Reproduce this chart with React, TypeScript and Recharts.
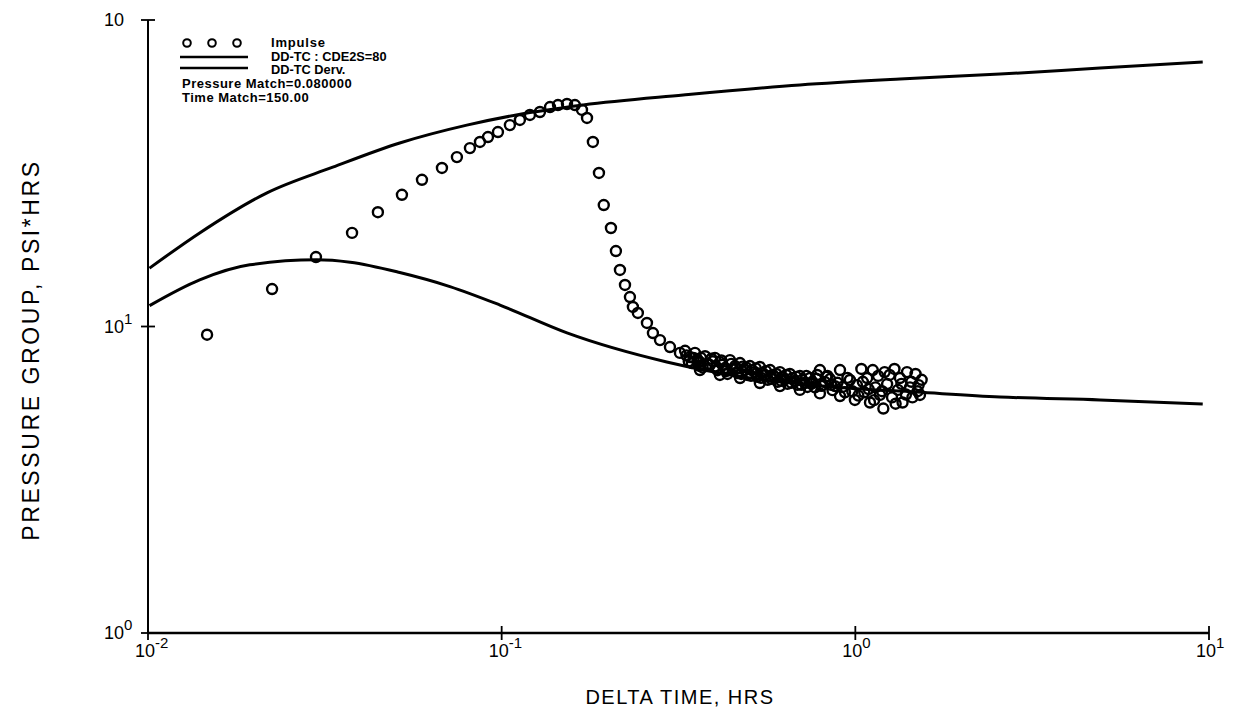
import React from 'react';
import { ComposedChart, Scatter, Line, XAxis, YAxis } from 'recharts';

// ---- Axis ticks ----
const xTicks = [0.01, 0.1, 1, 10];
const xTickExp = ['-2', '-1', '0', '1'];
const yTicks = [1, 10, 100];
const yTickExp = ['0', '1', ''];

// ---- DD-TC : CDE2S=80 (type curve) ----
const curveX = [0.0101, 0.014, 0.0217, 0.0333, 0.0515, 0.0797, 0.110, 0.170, 0.326, 0.697, 1.337, 2.565, 4.92, 9.6];
const curveY = [15.5, 20.2, 27.3, 33.1, 39.7, 45.4, 49.0, 52.8, 56.9, 61.4, 64.2, 66.6, 69.7, 72.9];

// ---- DD-TC Derv. (derivative type curve) ----
const dervX = [0.0101, 0.014, 0.0194, 0.0300, 0.0373, 0.0515, 0.0714, 0.0989, 0.153, 0.293, 0.5035, 0.864, 1.494, 2.565, 4.92, 9.6];
const dervY = [11.7, 14.2, 15.9, 16.5, 16.2, 15.0, 13.5, 11.75, 9.53, 7.66, 6.79, 6.35, 6.11, 5.89, 5.76, 5.59];

// ---- Impulse data ----
const impulseX = [
  0.01469, 0.02243, 0.02985, 0.03775, 0.04467, 0.05224, 0.05952, 0.06779, 0.07472, 0.08133,
  0.08682, 0.09148, 0.09761, 0.1055, 0.1126, 0.1202, 0.1283, 0.1370, 0.1443, 0.1530,
  0.1611, 0.1687, 0.1743, 0.1811, 0.1884, 0.1944, 0.2037, 0.2104, 0.2160, 0.2232,
  0.2305, 0.2350, 0.2427, 0.2575, 0.2677, 0.2803, 0.2991, 0.3192,
  0.330, 0.3406, 0.352, 0.3636, 0.376, 0.388, 0.401, 0.414, 0.428, 0.442,
  0.457, 0.472, 0.487, 0.5035, 0.52, 0.537, 0.555, 0.574, 0.593, 0.612,
  0.632, 0.653, 0.675, 0.697, 0.72, 0.744, 0.769, 0.794, 0.821, 0.848,
  0.876, 0.905, 0.935, 0.965, 0.997, 1.01, 1.04, 1.06, 1.08, 1.10,
  1.12, 1.14, 1.174, 1.20, 1.21, 1.23, 1.27, 1.29, 1.32, 1.337,
  1.36, 1.40, 1.427, 1.45, 1.48, 1.51, 1.523,
  0.3636, 0.414, 0.472, 0.537, 0.612, 0.697, 0.794, 0.905,
  0.345, 0.358, 0.37, 0.395, 0.408, 0.421, 0.435, 0.45, 0.465, 0.48,
  0.495, 0.51, 0.528, 0.546, 0.565, 0.584, 0.603, 0.622, 0.643, 0.664,
  0.686, 0.708, 0.732, 0.756, 0.78, 0.807, 0.834, 0.862, 0.89, 0.92,
  0.95, 0.98, 1.02, 1.05, 1.09, 1.13, 1.16, 1.19, 1.25, 1.3,
  1.35, 1.39, 1.44, 1.5, 1.54,
  0.333, 0.338, 0.349, 0.361, 0.366, 0.382, 0.392, 0.404, 0.418, 0.431,
  0.446, 0.461, 0.476, 0.491, 0.507, 0.523, 0.541, 0.559, 0.578, 0.598,
  0.617, 0.638, 0.659, 0.681, 0.703, 0.727, 0.751, 0.775, 0.8, 0.828,
  0.855,
];
const impulseY = [
  9.4, 13.25, 16.85, 20.2, 23.6, 26.9, 30.1, 32.9, 35.7, 38.2,
  40.0, 41.5, 43.1, 45.4, 47.2, 49.0, 50.1, 52.0, 52.8, 53.2,
  52.8, 50.9, 47.9, 40.0, 31.7, 24.9, 20.96, 17.63, 15.29, 13.66,
  12.48, 11.58, 11.07, 10.27, 9.52, 9.03, 8.57, 8.20,
  8.33, 7.95, 8.2, 7.65, 8.0, 7.49, 7.9, 7.65, 7.32, 7.77,
  7.43, 7.6, 7.21, 7.43, 7.1, 7.38, 6.95, 7.21, 6.85, 7.1,
  6.74, 7.0, 6.64, 6.9, 6.54, 6.79, 6.33, 7.21, 6.59, 6.74,
  6.39, 7.21, 6.1, 6.69, 5.76, 6.44, 7.27, 6.1, 6.79, 5.65,
  7.21, 6.33, 5.98, 5.4, 7.1, 6.49, 5.87, 7.27, 6.21, 6.79,
  5.65, 7.1, 6.33, 5.87, 7.0, 6.44, 5.98,
  7.21, 6.95, 6.79, 6.54, 6.39, 6.21, 6.05, 5.93,
  7.6, 7.8, 7.35, 7.7, 7.2, 7.5, 7.0, 7.25, 7.05, 7.4,
  6.95, 7.2, 6.85, 7.05, 6.7, 6.95, 6.6, 6.85, 6.5, 6.78,
  6.45, 6.7, 6.35, 6.6, 6.95, 6.42, 6.9, 6.2, 6.55, 6.35,
  6.8, 6.15, 5.95, 6.6, 6.25, 5.75, 6.9, 6.15, 6.95, 5.6,
  6.5, 6.0, 6.6, 6.15, 6.7,
  8.05, 7.7, 7.9, 7.45, 7.9, 7.55, 7.85, 7.4, 7.75, 7.15,
  7.55, 7.3, 7.0, 7.35, 6.9, 7.3, 6.8, 7.15, 6.75, 7.0,
  6.65, 6.95, 6.55, 6.85, 6.45, 6.9, 6.5, 6.75, 6.4, 6.85,
  6.45,
];

const curveData = curveX.map((x, i) => ({ x, y: curveY[i] }));
const dervData = dervX.map((x, i) => ({ x, y: dervY[i] }));
const impulseData = impulseX.map((x, i) => ({ x, y: impulseY[i] }));

const FONT = '"Liberation Sans", Arial, Helvetica, sans-serif';
const TICK = 7;

const XTick = (props: any) => {
  const { x, y, payload } = props;
  const idx = xTicks.indexOf(payload.value);
  const exp = xTickExp[idx] ?? '';
  return (
    <g>
      <line x1={x} y1={y - TICK} x2={x} y2={y + TICK} stroke="#000" strokeWidth={1.8} />
      <text x={x - 13} y={y + 24} fontFamily={FONT} fontSize={18} fill="#000" textAnchor="start">
        10
        <tspan dy={-9} fontSize={15}>{exp}</tspan>
      </text>
    </g>
  );
};

const YTick = (props: any) => {
  const { x, y, payload } = props;
  const idx = yTicks.indexOf(payload.value);
  const exp = yTickExp[idx] ?? '';
  return (
    <g>
      <line x1={x - TICK} y1={y} x2={x + TICK} y2={y} stroke="#000" strokeWidth={1.8} />
      <text x={x - 44} y={y + 6} fontFamily={FONT} fontSize={18} fill="#000" textAnchor="start">
        10
        {exp ? <tspan dy={-9} fontSize={15}>{exp}</tspan> : null}
      </text>
    </g>
  );
};

const VCross = (props: any) => {
  const { x, y } = props;
  return <line x1={x} y1={y - TICK} x2={x} y2={y + TICK} stroke="#000" strokeWidth={1.8} />;
};

const HCross = (props: any) => {
  const { x, y } = props;
  return <line x1={x - TICK} y1={y} x2={x + TICK} y2={y} stroke="#000" strokeWidth={1.8} />;
};

const HollowCircle = (props: any) => {
  const { cx, cy } = props;
  if (cx == null || cy == null) return null;
  return <circle cx={cx} cy={cy} r={5} fill="none" stroke="#000" strokeWidth={2.4} />;
};

export default function App() {
  return (
    <div style={{ position: 'absolute', left: 0, top: 0, width: 1233, height: 728, background: '#fff' }}>
      <ComposedChart
        width={1233}
        height={728}
        margin={{ top: 20, right: 24, bottom: 35, left: 0 }}
      >
        <XAxis
          xAxisId="b"
          orientation="bottom"
          type="number"
          dataKey="x"
          scale="log"
          domain={[0.01, 10]}
          allowDataOverflow
          ticks={xTicks}
          tick={<XTick />}
          tickLine={false}
          tickSize={0}
          tickMargin={0}
          height={60}
          stroke="#000"
          strokeWidth={2.5}
          interval={0}
        />
        <XAxis
          xAxisId="t"
          orientation="top"
          type="number"
          dataKey="x"
          scale="log"
          domain={[0.01, 10]}
          allowDataOverflow
          ticks={xTicks}
          tick={<VCross />}
          tickLine={false}
          tickSize={0}
          tickMargin={0}
          height={0}
          stroke="#000"
          strokeWidth={2.5}
          interval={0}
        />
        <YAxis
          yAxisId="l"
          orientation="left"
          type="number"
          dataKey="y"
          scale="log"
          domain={[1, 100]}
          allowDataOverflow
          ticks={yTicks}
          tick={<YTick />}
          tickLine={false}
          tickSize={0}
          tickMargin={0}
          width={148}
          stroke="#000"
          strokeWidth={2}
          interval={0}
        />
        <YAxis
          yAxisId="r"
          orientation="right"
          type="number"
          dataKey="y"
          scale="log"
          domain={[1, 100]}
          allowDataOverflow
          ticks={yTicks}
          tick={<HCross />}
          tickLine={false}
          tickSize={0}
          tickMargin={0}
          width={0}
          stroke="#000"
          strokeWidth={2}
          interval={0}
        />
        <Line
          xAxisId="b"
          yAxisId="l"
          data={curveData}
          dataKey="y"
          type="monotone"
          stroke="#000"
          strokeWidth={3}
          dot={false}
          isAnimationActive={false}
        />
        <Line
          xAxisId="b"
          yAxisId="l"
          data={dervData}
          dataKey="y"
          type="monotone"
          stroke="#000"
          strokeWidth={3}
          dot={false}
          isAnimationActive={false}
        />
        <Scatter
          xAxisId="b"
          yAxisId="l"
          data={impulseData}
          dataKey="y"
          shape={<HollowCircle />}
          isAnimationActive={false}
        />
      </ComposedChart>
      <svg
        width={1233}
        height={728}
        style={{ position: 'absolute', left: 0, top: 0, pointerEvents: 'none' }}
      >
        <g fontFamily={FONT} fontWeight="bold" fill="#000">
          <circle cx={187} cy={43} r={3.8} fill="none" stroke="#000" strokeWidth={2} />
          <circle cx={212} cy={43} r={3.8} fill="none" stroke="#000" strokeWidth={2} />
          <circle cx={237} cy={43} r={3.8} fill="none" stroke="#000" strokeWidth={2} />
          <line x1={180} y1={57} x2={248} y2={57} stroke="#000" strokeWidth={2.5} />
          <line x1={180} y1={68} x2={248} y2={68} stroke="#000" strokeWidth={2.5} />
          <text x={271} y={47} fontSize={13} letterSpacing={0.8}>Impulse</text>
          <text x={271} y={60.5} fontSize={12.8}>DD-TC : CDE2S=80</text>
          <text x={271} y={73.5} fontSize={12.8}>DD-TC Derv.</text>
          <text x={182} y={88} fontSize={13} letterSpacing={0.5}>Pressure Match=0.080000</text>
          <text x={182} y={102} fontSize={13} letterSpacing={0.5}>Time Match=150.00</text>
        </g>
        <text
          x={680}
          y={704}
          fontFamily={FONT}
          fontSize={20}
          letterSpacing={1.5}
          textAnchor="middle"
          fill="#000"
        >
          DELTA TIME, HRS
        </text>
        <text
          x={0}
          y={0}
          transform="translate(39,350) rotate(-90)"
          fontFamily={FONT}
          fontSize={23}
          letterSpacing={2.6}
          textAnchor="middle"
          fill="#000"
        >
          PRESSURE GROUP, PSI*HRS
        </text>
      </svg>
    </div>
  );
}
